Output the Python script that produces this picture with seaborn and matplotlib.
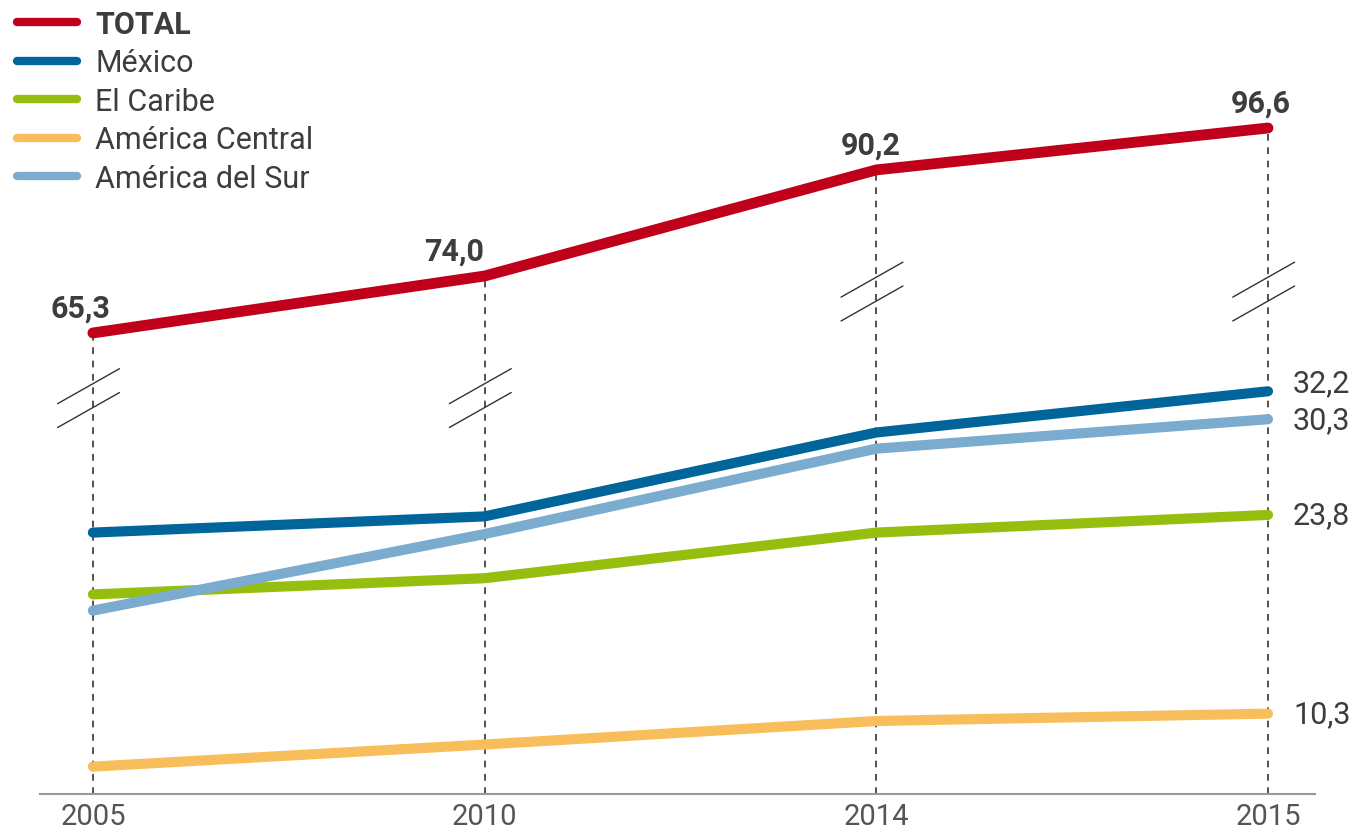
import numpy as np
import pandas as pd
import seaborn as sns
import matplotlib.pyplot as plt
import matplotlib.transforms as mtransforms
from matplotlib.lines import Line2D

# datos (millones)
years = ['2005', '2010', '2014', '2015']
total = [65.3, 74.0, 90.2, 96.6]
mexico = [22.6, 23.7, 29.4, 32.2]
caribe = [18.4, 19.5, 22.6, 23.8]
central = [6.7, 8.2, 9.8, 10.3]
sur = [17.3, 22.5, 28.3, 30.3]

regions = ['México', 'El Caribe', 'América Central', 'América del Sur']
colors = ['#00659B', '#95BE0E', '#F8BE5C', '#7BACCF']
red = '#C0001B'
dark = '#3d3d3d'

pos = np.arange(len(years))
df = pd.DataFrame({
    'pos': np.tile(pos, len(regions)),
    'region': np.repeat(regions, len(years)),
    'valor': mexico + caribe + central + sur,
})

sns.set_theme(style='white')
plt.rcParams['font.family'] = ['Roboto', 'DejaVu Sans']

fig = plt.figure(figsize=(13.61, 8.29), dpi=100)
ax = fig.add_axes([40/1361, 1 - 795/829, 1275/1361, 795/829])
ax2 = ax.twinx()
ax.set_zorder(ax2.get_zorder() + 1)
ax.patch.set_visible(False)

# TOTAL en su propia escala (eje cortado)
ax2.set_ylim(-5.1, 116.3)
ax2.vlines(pos, -5.1, total, colors='#333333', linestyles=(0, (4, 4)), lw=1.2, zorder=1)
sns.lineplot(x=pos, y=total, color=red, lw=7.8, ax=ax2, legend=False,
             solid_capstyle='round', zorder=3)

sns.lineplot(data=df, x='pos', y='valor', hue='region', hue_order=regions,
             palette=colors, lw=7.3, ax=ax, legend=False, solid_capstyle='round')
ax.set_ylim(4.84, 58.85)
ax.set_xlim(-0.135, 3.12)

# marcas de corte
bt = mtransforms.blended_transform_factory(ax.transData, ax.transAxes)
for i, p in enumerate(pos):
    mid = 0.498 if i < 2 else 0.632
    for dy in (0.015, -0.015):
        ax.plot([p - 0.09, p + 0.068], [mid + dy - 0.022, mid + dy + 0.022],
                color='#333333', lw=1.0, transform=bt, zorder=2)

# etiquetas TOTAL
dx_total = [-12, -30, -6, -7]
for p, v, dx in zip(pos, total, dx_total):
    ax2.annotate(f'{v:.1f}'.replace('.', ','), (p, v), xytext=(dx * 0.72, 12),
                 textcoords='offset points', ha='center', va='baseline',
                 fontsize=22, fontweight='bold', color=dark)

# etiquetas a la derecha
dy_right = [6, 0, 0, 0]
for vals, dy in zip([mexico, caribe, central, sur], dy_right):
    ax.annotate(f'{vals[-1]:.1f}'.replace('.', ','), (pos[-1], vals[-1]),
                xytext=(18, dy), textcoords='offset points', ha='left',
                va='center', fontsize=22, color=dark)

ax.set_xticks(pos, years)
ax.tick_params(axis='x', length=0, pad=6, labelsize=21, labelcolor='#555555')
ax.set_yticks([])
ax2.set_yticks([])
ax.set_xlabel('')
ax.set_ylabel('')
ax2.set_ylabel('')
for s in ['top', 'left', 'right']:
    ax.spines[s].set_visible(False)
    ax2.spines[s].set_visible(False)
ax2.spines['bottom'].set_visible(False)
ax.spines['bottom'].set_color('#999999')
ax.spines['bottom'].set_linewidth(1.5)

handles = [Line2D([], [], color=red, lw=6, solid_capstyle='round')]
handles += [Line2D([], [], color=c, lw=6, solid_capstyle='round') for c in colors]
leg = fig.legend(handles, ['TOTAL'] + regions, loc='upper left',
                 bbox_to_anchor=(17/1361, 1 - 10/829), frameon=False, fontsize=22,
                 handlelength=1.96, handletextpad=0.6, labelspacing=0.31,
                 borderpad=0, borderaxespad=0)
for t in leg.get_texts():
    t.set_color(dark)
leg.get_texts()[0].set_fontweight('bold')

fig.savefig('out.png', dpi=100)
